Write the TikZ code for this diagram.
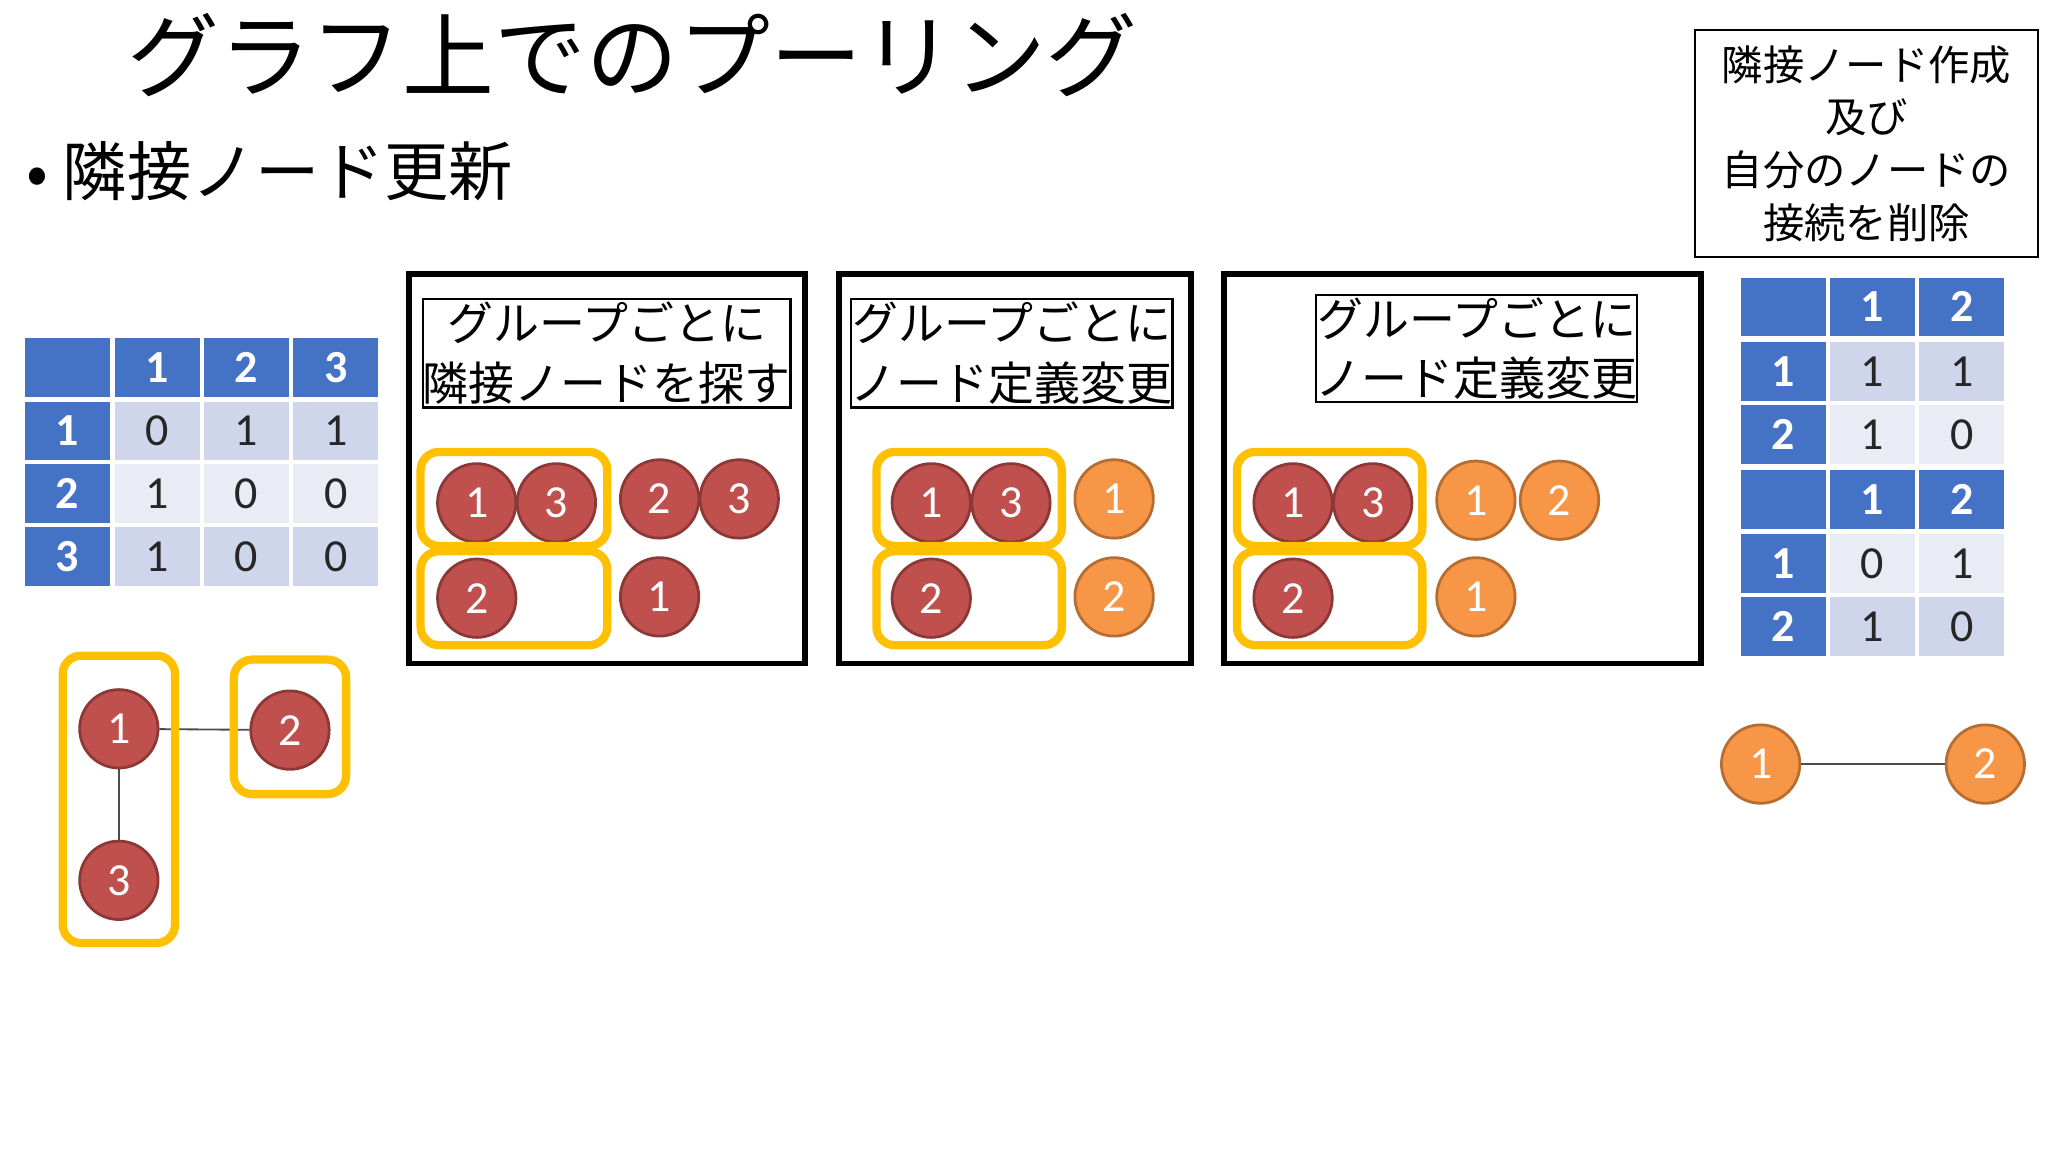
\documentclass[tikz,border=0pt]{standalone}
\usepackage{fontspec}
\setmainfont{Carlito}
\newfontfamily\jp{Noto Sans CJK JP}
\definecolor{hb}{HTML}{4472C4}
\definecolor{ld}{HTML}{CFD5EA}
\definecolor{ll}{HTML}{E9EBF5}
\definecolor{rd}{HTML}{C0504D}
\definecolor{rdb}{HTML}{8C3836}
\definecolor{og}{HTML}{F79646}
\definecolor{ogb}{HTML}{B66D31}
\definecolor{yl}{HTML}{FFC000}
\tikzset{
 cell/.style={minimum width=0.65cm,minimum height=0.45cm,inner sep=0pt,font=\fontsize{10}{10}\selectfont,text=black!85},
 hcell/.style={cell,fill=hb,text=white,font=\bfseries\fontsize{10}{10}\selectfont},
 rn/.style={circle,minimum size=0.6cm,inner sep=0pt,fill=rd,draw=rdb,line width=0.6pt,text=white,font=\fontsize{10}{10}\selectfont},
 on/.style={rn,fill=og,draw=ogb},
 grp/.style={draw=yl,line width=1.8pt,rounded corners=4pt},
 panel/.style={draw=black,line width=1.3pt},
 lbl/.style={draw=black,line width=0.5pt,font=\jp\fontsize{10}{13}\selectfont,align=center,inner sep=0pt},
 edge/.style={draw=black!70,line width=0.4pt}
}
\begin{document}
\begin{tikzpicture}[x=0.01cm,y=-0.01cm]
\useasboundingbox (0,0) rectangle (1568,882);
\node[font=\jp\fontsize{20}{20}\selectfont,anchor=west] (title) at (85,42) {グラフ上でのプーリング};
\node[font=\jp\fontsize{14}{14}\selectfont,anchor=west] (sub) at (8,131) {• 隣接ノード更新};
\node[draw=black,line width=0.5pt,minimum width=2.62cm,minimum height=1.55cm,align=center,font=\jp\fontsize{9}{11.5}\selectfont] (topbox) at (1429,110) {隣接ノード作成\\及び\\自分のノードの\\接続を削除};
% left table
\foreach \x [count=\i] in {51.5,120.5,188.5,257}{\foreach \y [count=\j] in {281.5,330,378,426}{
  \pgfmathtruncatemacro\rw{\j}
  \ifnum\i=1 \node[hcell] (L\i\j) at (\x,\y) {};\else\ifnum\j=1 \node[hcell] (L\i\j) at (\x,\y) {};\else
  \ifodd\rw \node[cell,fill=ll] (L\i\j) at (\x,\y) {};\else\node[cell,fill=ld] (L\i\j) at (\x,\y) {};\fi\fi\fi}}
\foreach \n/\t in {L21/1,L31/2,L41/3,L12/1,L13/2,L14/3}{\node[text=white,font=\bfseries\fontsize{10}{10}\selectfont] at (\n) {\t};}
\foreach \n/\t in {L22/0,L32/1,L42/1,L23/1,L33/0,L43/0,L24/1,L34/0,L44/0}{\node[text=black!85,font=\fontsize{10}{10}\selectfont] at (\n) {\t};}
% graph
\node[rn] (g1) at (91,558) {1};
\node[rn] (g2) at (222,559) {2};
\node[rn] (g3) at (91,674) {3};
\draw[edge] (g1) -- (g2); \draw[edge] (g1) -- (g3);
\draw[grp] (48,502) rectangle (134,722);
\draw[grp] (179,505) rectangle (265,608);
% panel 1
\draw[panel] (313,210) rectangle (616,508);
\node[lbl,minimum width=2.39cm,minimum height=0.83cm] (l1) at (464.5,270.5) {グループごとに\\隣接ノードを探す};
\node[rn] (a1) at (365,385) {1}; \node[rn] (a3) at (426,385) {3};
\node[rn] (a2b) at (505,382) {2}; \node[rn] (a3b) at (566,382) {3};
\node[rn] (a2) at (365,458) {2}; \node[rn] (a1b) at (505,457) {1};
\draw[grp] (322,346) rectangle (465,418); \draw[grp] (322,422) rectangle (465,494);
% panel 2
\draw[panel] (642,210) rectangle (912,508);
\node[lbl,minimum width=2.39cm,minimum height=0.83cm] (l2) at (774.5,270.5) {グループごとに\\ノード定義変更};
\node[rn] (b1) at (713,385) {1}; \node[rn] (b3) at (774,385) {3};
\node[rn] (b2) at (713,458) {2};
\node[on] (b1o) at (853,382) {1}; \node[on] (b2o) at (853,457) {2};
\draw[grp] (671,346) rectangle (813,418); \draw[grp] (671,422) rectangle (813,494);
% panel 3
\draw[panel] (937,210) rectangle (1302,508);
\node[lbl,minimum width=2.39cm,minimum height=0.82cm] (l3) at (1130.5,267) {グループごとに\\ノード定義変更};
\node[rn] (c1) at (990,385) {1}; \node[rn] (c3) at (1051,385) {3};
\node[rn] (c2) at (990,458) {2};
\node[on] (c1o) at (1130,383) {1}; \node[on] (c2o) at (1194,383) {2}; \node[on] (c1p) at (1130,457) {1};
\draw[grp] (947,346) rectangle (1089,418); \draw[grp] (947,422) rectangle (1089,494);
% right tables
\foreach \x [count=\i] in {1365.5,1433.5,1502}{\foreach \y [count=\j] in {235,284.5,332.5,382.5,431.5,479.5}{
  \ifnum\i=1 \node[hcell] (R\i\j) at (\x,\y) {};\else\ifnum\j=1 \node[hcell] (R\i\j) at (\x,\y) {};\else\ifnum\j=4 \node[hcell] (R\i\j) at (\x,\y) {};\else
  \ifodd\j \node[cell,fill=ll] (R\i\j) at (\x,\y) {};\else\node[cell,fill=ld] (R\i\j) at (\x,\y) {};\fi\fi\fi\fi}}
\foreach \n/\t in {R21/1,R31/2,R12/1,R13/2,R24/1,R34/2,R15/1,R16/2}{\node[text=white,font=\bfseries\fontsize{10}{10}\selectfont] at (\n) {\t};}
\foreach \n/\t in {R22/1,R32/1,R23/1,R33/0,R25/0,R35/1,R26/1,R36/0}{\node[text=black!85,font=\fontsize{10}{10}\selectfont] at (\n) {\t};}
\node[on] (d1) at (1348,585) {1}; \node[on] (d2) at (1520,585) {2};
\draw[edge] (d1) -- (d2);
\end{tikzpicture}
\end{document}
